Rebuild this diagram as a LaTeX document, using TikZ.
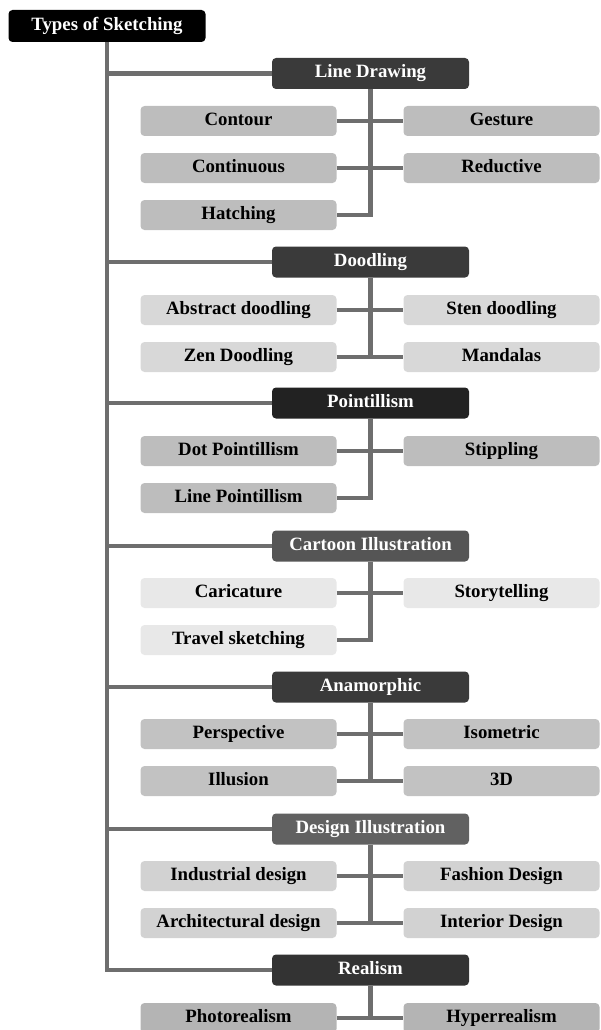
\documentclass[tikz,border=0pt]{standalone}
\usepackage{fontspec}
\setmainfont{Liberation Serif}
\definecolor{lineg}{HTML}{6E6E6E}
\definecolor{catA}{HTML}{3A3A3A}
\definecolor{catP}{HTML}{222222}
\definecolor{catC}{HTML}{555555}
\definecolor{catD}{HTML}{616161}
\definecolor{catR}{HTML}{333333}
\definecolor{lfA}{HTML}{BDBDBD}
\definecolor{lfB}{HTML}{D8D8D8}
\definecolor{lfC}{HTML}{E8E8E8}
\definecolor{lfD}{HTML}{D2D2D2}
\definecolor{lfE}{HTML}{C2C2C2}
\definecolor{lfR}{HTML}{B4B4B4}
\tikzset{
  txt/.style={font=\fontsize{18.8}{21}\selectfont\bfseries, text height=12.5pt, text depth=4pt},
  rootbox/.style={txt, fill=black, text=white, rounded corners=4pt, minimum width=197pt, minimum height=32pt, inner sep=0pt},
  catbox/.style={txt, fill=#1, text=white, rounded corners=4pt, minimum width=197pt, minimum height=31pt, inner sep=0pt},
  leafbox/.style={txt, fill=#1, text=black, rounded corners=4pt, minimum width=196pt, minimum height=30pt, inner sep=0pt},
  conn/.style={draw=lineg, line width=4.2pt},
}
\begin{document}
\begin{tikzpicture}[x=1pt,y=-1pt]
\useasboundingbox (0,0) rectangle (600,1030);
% root
\node[rootbox] (root) at (107,26) {Types of Sketching};
% categories
\node[catbox=catA] (c1) at (370.5,73.5) {Line Drawing};
\node[catbox=catA] (c2) at (370.5,262) {Doodling};
\node[catbox=catP] (c3) at (370.5,403) {Pointillism};
\node[catbox=catC] (c4) at (370.5,546) {Cartoon Illustration};
\node[catbox=catA] (c5) at (370.5,687) {Anamorphic};
\node[catbox=catD] (c6) at (370.5,829) {Design Illustration};
\node[catbox=catR] (c7) at (370.5,970) {Realism};
% leaves: Line Drawing
\node[leafbox=lfA] (l11) at (238.5,121) {Contour};
\node[leafbox=lfA] (r11) at (501.5,121) {Gesture};
\node[leafbox=lfA] (l12) at (238.5,168) {Continuous};
\node[leafbox=lfA] (r12) at (501.5,168) {Reductive};
\node[leafbox=lfA] (l13) at (238.5,215) {Hatching};
% Doodling
\node[leafbox=lfB] (l21) at (238.5,310) {Abstract doodling};
\node[leafbox=lfB] (r21) at (501.5,310) {Sten doodling};
\node[leafbox=lfB] (l22) at (238.5,357) {Zen Doodling};
\node[leafbox=lfB] (r22) at (501.5,357) {Mandalas};
% Pointillism
\node[leafbox=lfA] (l31) at (238.5,451) {Dot Pointillism};
\node[leafbox=lfA] (r31) at (501.5,451) {Stippling};
\node[leafbox=lfA] (l32) at (238.5,498) {Line Pointillism};
% Cartoon
\node[leafbox=lfC] (l41) at (238.5,593) {Caricature};
\node[leafbox=lfC] (r41) at (501.5,593) {Storytelling};
\node[leafbox=lfC] (l42) at (238.5,640) {Travel sketching};
% Anamorphic
\node[leafbox=lfE] (l51) at (238.5,734) {Perspective};
\node[leafbox=lfE] (r51) at (501.5,734) {Isometric};
\node[leafbox=lfE] (l52) at (238.5,781) {Illusion};
\node[leafbox=lfE] (r52) at (501.5,781) {3D};
% Design
\node[leafbox=lfD] (l61) at (238.5,876) {Industrial design};
\node[leafbox=lfD] (r61) at (501.5,876) {Fashion Design};
\node[leafbox=lfD] (l62) at (238.5,923) {Architectural design};
\node[leafbox=lfD] (r62) at (501.5,923) {Interior Design};
% Realism
\node[leafbox=lfR] (l71) at (238.5,1018) {Photorealism};
\node[leafbox=lfR] (r71) at (501.5,1018) {Hyperrealism};
% trunk
\draw[conn] (root.south) -- (root.south |- c7.west) -- (c7.west);
\foreach \c in {c1,c2,c3,c4,c5,c6} \draw[conn] (root.south |- \c.west) -- (\c.west);
% sub connectors
\draw[conn] (c1.south) -- (c1.south |- l13.east) -- (l13.east);
\draw[conn] (l11.east) -- (r11.west);
\draw[conn] (l12.east) -- (r12.west);
\draw[conn] (c2.south) -- (c2.south |- l22.east);
\draw[conn] (l21.east) -- (r21.west);
\draw[conn] (l22.east) -- (r22.west);
\draw[conn] (c3.south) -- (c3.south |- l32.east) -- (l32.east);
\draw[conn] (l31.east) -- (r31.west);
\draw[conn] (c4.south) -- (c4.south |- l42.east) -- (l42.east);
\draw[conn] (l41.east) -- (r41.west);
\draw[conn] (c5.south) -- (c5.south |- l52.east);
\draw[conn] (l51.east) -- (r51.west);
\draw[conn] (l52.east) -- (r52.west);
\draw[conn] (c6.south) -- (c6.south |- l62.east);
\draw[conn] (l61.east) -- (r61.west);
\draw[conn] (l62.east) -- (r62.west);
\draw[conn] (c7.south) -- (c7.south |- l71.east);
\draw[conn] (l71.east) -- (r71.west);
\end{tikzpicture}
\end{document}
